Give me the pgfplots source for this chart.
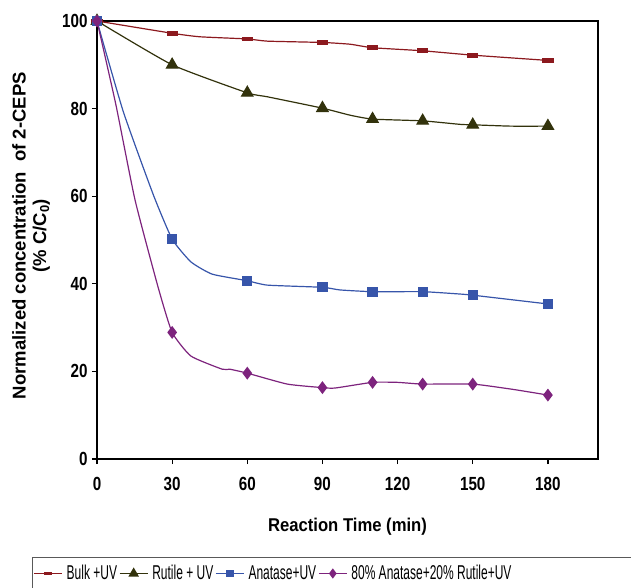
\documentclass[border=0pt]{standalone}
\usepackage{pgfplots}
\pgfplotsset{compat=1.18}
\usepackage{fontspec}
\setmainfont{Liberation Sans}
\newfontfamily\tickfont{Liberation Sans}[FakeStretch=0.8]
\newfontfamily\legfont{Liberation Sans}[FakeStretch=0.6]
\newfontfamily\xlabfont{Liberation Sans}[FakeStretch=0.9]
\definecolor{cbulk}{RGB}{140,25,30}
\definecolor{crut}{RGB}{50,50,12}
\definecolor{cana}{RGB}{55,85,170}
\definecolor{cmix}{RGB}{125,35,125}
\pgfdeclareplotmark{dash}{%
  \pgfpathrectangle{\pgfqpoint{-\pgfplotmarksize}{-0.36\pgfplotmarksize}}{\pgfqpoint{2\pgfplotmarksize}{0.72\pgfplotmarksize}}%
  \pgfusepathqfillstroke}
\begin{document}
\begin{tikzpicture}
\begin{axis}[
  scale only axis, width=501pt, height=438pt,
  xmin=0, xmax=200, ymin=0, ymax=100,
  xtick={0,30,...,180}, ytick={0,20,...,100},
  tick align=outside, xtick pos=left, ytick pos=left,
  major tick length=5pt,
  tick style={black, line width=1.2pt},
  axis line style={black, line width=1.4pt},
  /pgf/number format/assume math mode=true,
  ticklabel style={font=\fontsize{19}{22}\tickfont\bfseries},
  xticklabel style={yshift=-10pt},
  yticklabel style={xshift=-1pt},
  xlabel={Reaction Time (min)},
  xlabel style={font=\fontsize{18.5}{22}\xlabfont\bfseries, at={(axis description cs:0.5,-0.155)}, anchor=center},
  ylabel={Normalized concentration~ of 2-CEPS\\(\% C/C\textsubscript{0})},
  ylabel style={font=\fontsize{18.5}{20.5}\bfseries, align=center, at={(axis description cs:-0.1317,0.51)}, anchor=center},
  legend columns=4,
  legend style={at={(axis description cs:-0.1297,-0.2237)}, anchor=north west,
    draw=black!65, line width=1pt, font=\fontsize{20}{23}\legfont,
    /tikz/every even column/.append style={column sep=0pt},
    /tikz/every odd column/.append style={column sep=2pt},
    inner xsep=1pt, inner ysep=6pt},
  legend image code/.code={\draw[mark repeat=2,mark phase=2,mark options={scale=0.75}] plot coordinates {(0pt,0pt)(14pt,0pt)(28pt,0pt)};},
  every axis plot/.append style={line width=1.2pt, smooth, tension=0.3},
]
% Bulk + UV
\addplot[color=cbulk, mark=dash, mark size=5pt, mark indices={1,2,4,6,8,9,10,11}, forget plot] coordinates {
 (0,100) (30,97.2) (41,96.4) (60,95.9) (68,95.4) (90,95.1) (101,94.7) (110,93.9) (130,93.2) (150,92.2) (180,91.0)};
% Rutile + UV
\addplot[color=crut, mark=triangle*, mark size=6.5pt, mark indices={1,2,3,5,7,8,10,12}, forget plot] coordinates {
 (0,100) (30,90.0) (60,83.6) (68,82.7) (90,80.1) (101,78.5) (110,77.6) (130,77.2) (145,76.4) (150,76.3) (165,76.0) (180,76.0)};
% Anatase + UV
\addplot[color=cana, mark=square*, mark size=4.5pt, mark indices={1,4,7,9,11,12,14,15}, forget plot] coordinates {
 (0,100) (10.5,79.3) (22.5,60.3) (30,50.2) (37.5,45.0) (46,42.2) (60,40.7) (68,39.7) (90,39.2) (97,38.6) (110,38.2) (130,38.2) (144,37.7) (150,37.4) (180,35.4)};
% 80% Anatase + 20% Rutile + UV
\addplot[color=cmix, mark=diamond*, mark size=5.5pt, mark indices={1,5,9,11,13,15,16,18}, forget plot] coordinates {
 (0,100) (7.5,81) (15.2,59.1) (24.5,39.0) (30,28.9) (37.5,23.5) (50,20.5) (53,20.5) (60,19.6) (76,17.1) (90,16.3) (95,16.2) (110,17.5) (120,17.5) (130,17.1) (150,17.1) (166,15.9) (180,14.6)};
\addlegendimage{color=cbulk, line width=1.2pt, mark=dash, mark size=5pt}
\addlegendentry{Bulk +UV}
\addlegendimage{color=crut, line width=1.2pt, mark=triangle*, mark size=6.5pt}
\addlegendentry{Rutile + UV}
\addlegendimage{color=cana, line width=1.2pt, mark=square*, mark size=4.5pt}
\addlegendentry{Anatase+UV}
\addlegendimage{color=cmix, line width=1.2pt, mark=diamond*, mark size=5.5pt}
\addlegendentry{80\% Anatase+20\% Rutile+UV\rule{150pt}{0pt}}
\end{axis}
\pgfresetboundingbox
\path[use as bounding box] ([xshift=-97pt,yshift=-128pt]current axis.south west) rectangle ([xshift=33pt,yshift=21pt]current axis.north east);
\end{tikzpicture}
\end{document}
